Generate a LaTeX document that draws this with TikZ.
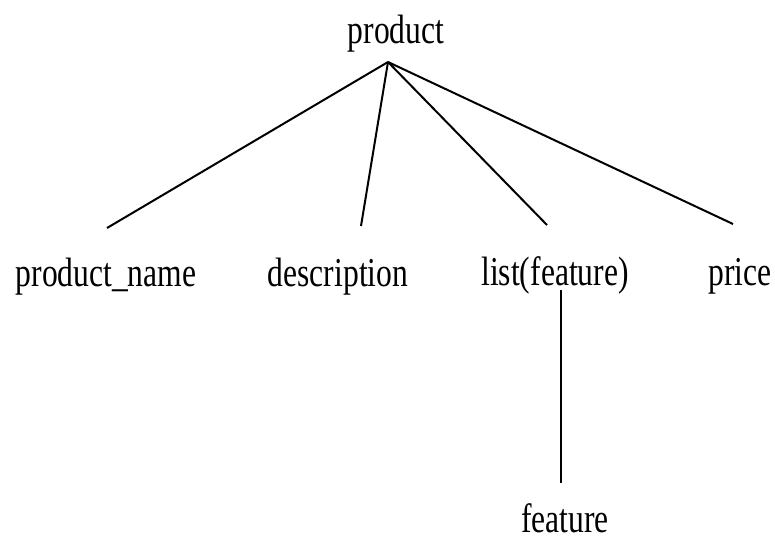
\documentclass[tikz,border=0pt]{standalone}
\usepackage{fontspec}
\setmainfont{Liberation Serif}[FakeStretch=0.77]
\usepackage{tikz}
\tikzset{treelbl/.style={anchor=base,inner sep=0pt,font=\fontsize{41}{49}\selectfont}}
\usetikzlibrary{calc}

\begin{document}
\begin{tikzpicture}[x=1pt,y=-1pt]
  \useasboundingbox (0,0) rectangle (775,541);
  \pgfsetlinewidth{2pt}

  \coordinate (root)  at (388,62);
  \coordinate (pn)    at (107,228);
  \coordinate (desc)  at (361,226);
  \coordinate (lst)   at (547,225);
  \coordinate (pr)    at (733,224);
  \coordinate (lstb)  at (561,290);
  \coordinate (feat)  at (561,483);

  \node [treelbl] (product)     at (396,43)  {product};
  \node [treelbl] (productname) at (106,286) {product\_name};
  \node [treelbl] (description) at (338,286) {description};
  \node [treelbl] (listfeature) at (555,285) {list(feature)};
  \node [treelbl] (price)       at (740,285) {price};
  \node [treelbl,text depth=0pt] (feature) at (565,532) {feature};

  \draw (root) -- (pn);
  \draw (root) -- (desc);
  \draw (root) -- (lst);
  \draw (root) -- (pr);
  \draw (lstb) -- (feat);
\end{tikzpicture}
\end{document}
